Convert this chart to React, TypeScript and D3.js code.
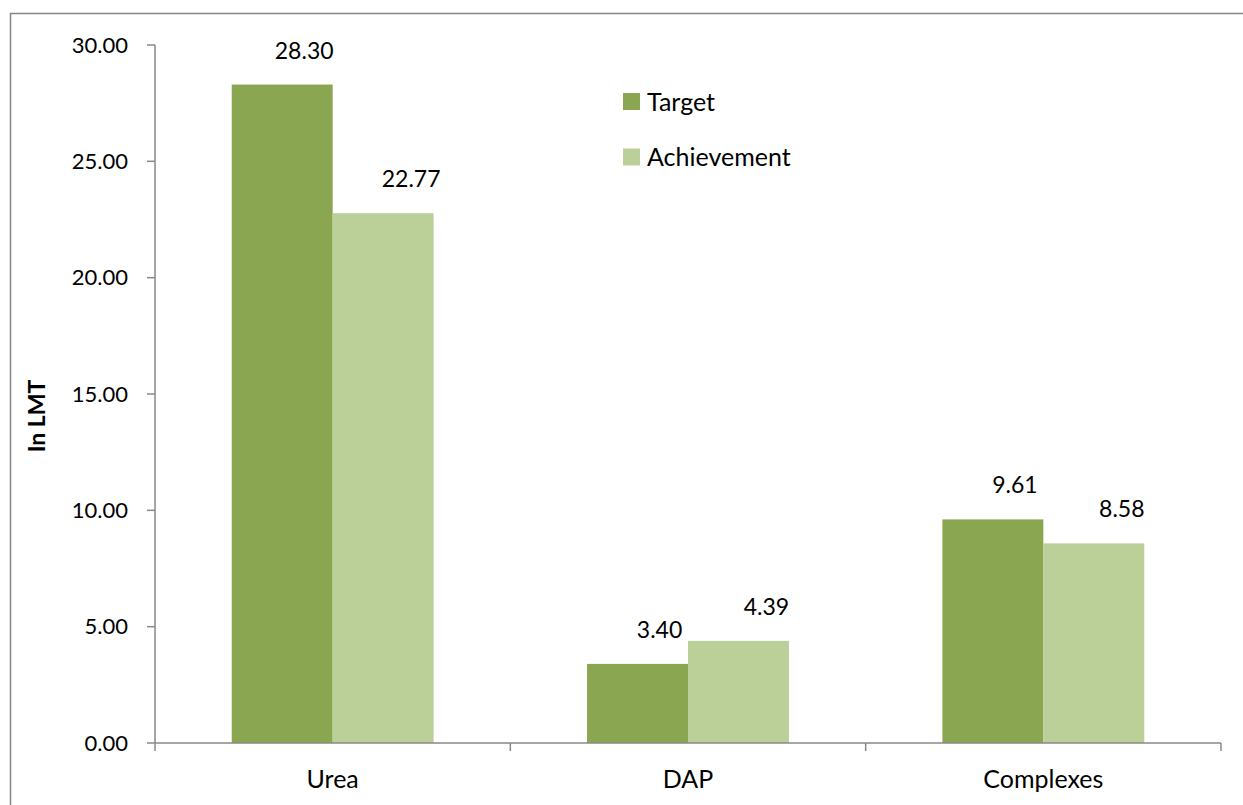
import React from "react";
import * as d3 from "d3";

const categories = ["Urea", "DAP", "Complexes"];
const seriesNames = ["Target", "Achievement"];
const targetValues = [28.3, 3.4, 9.61];
const achievementValues = [22.77, 4.39, 8.58];
const yTicks = [0, 5, 10, 15, 20, 25, 30];

const colors = ["#8ba650", "#bbcf99"];
const labelDx = [22, 28];
const FONT = "Lato, 'Open Sans', sans-serif";

export default function App() {
  const W = 1243, H = 805;
  const left = 155, right = 1221, top = 45, bottom = 743;
  const y = d3.scaleLinear().domain([0, 30]).range([bottom, top]);
  const x = d3.scaleBand<string>().domain(categories).range([left, right]).paddingInner(0).paddingOuter(0);
  const xs = d3.scaleBand<string>().domain(seriesNames).range([0, x.bandwidth()]).paddingInner(0).paddingOuter(0.76);
  const series = [targetValues, achievementValues];
  const boundaries = [...categories.map((c) => x(c) as number), right];
  const fmt = d3.format(".2f");

  return (
    <svg width={W} height={H} style={{ position: "absolute", left: 0, top: 0, background: "#fff" }} fontFamily={FONT}>
      <rect x={10.5} y={13.5} width={W + 20} height={H + 20} fill="#fff" stroke="#868686" strokeWidth={1.5} />
      {/* bars */}
      {series.map((vals, si) =>
        categories.map((c, ci) => {
          const bx = (x(c) as number) + (xs(seriesNames[si]) as number);
          const by = y(vals[ci]);
          return (
            <g key={`${si}-${ci}`}>
              <rect x={bx} y={by} width={xs.bandwidth()} height={bottom - by} fill={colors[si]} />
              <text x={bx + xs.bandwidth() / 2 + labelDx[si]} y={by - 26} textAnchor="middle" fontSize={23} fill="#000">
                {fmt(vals[ci])}
              </text>
            </g>
          );
        })
      )}
      {/* y axis */}
      <line x1={left} x2={left} y1={top} y2={bottom} stroke="#888" strokeWidth={1.5} />
      {yTicks.map((t) => (
        <g key={t}>
          <line x1={left - 8} x2={left} y1={y(t)} y2={y(t)} stroke="#888" strokeWidth={1.5} />
          <text x={128} y={y(t) + 7.5} textAnchor="end" fontSize={22} fill="#000">
            {fmt(t)}
          </text>
        </g>
      ))}
      {/* x axis */}
      <line x1={left} x2={right} y1={bottom} y2={bottom} stroke="#888" strokeWidth={1.5} />
      {boundaries.map((b, i) => (
        <line key={i} x1={b} x2={b} y1={bottom} y2={bottom + 8} stroke="#888" strokeWidth={1.5} />
      ))}
      {categories.map((c) => (
        <text key={c} x={(x(c) as number) + x.bandwidth() / 2} y={788} textAnchor="middle" fontSize={25} fill="#000">
          {c}
        </text>
      ))}
      {/* y title */}
      <text transform={`translate(45, 416) rotate(-90)`} textAnchor="middle" fontSize={23} fontWeight="bold" fill="#000">
        In LMT
      </text>
      {/* legend */}
      {seriesNames.map((s, i) => (
        <g key={s}>
          <rect x={623} y={93 + i * 55.5} width={17} height={17} fill={colors[i]} />
          <text x={647} y={111 + i * 55} fontSize={25} fill="#000">
            {s}
          </text>
        </g>
      ))}
    </svg>
  );
}
